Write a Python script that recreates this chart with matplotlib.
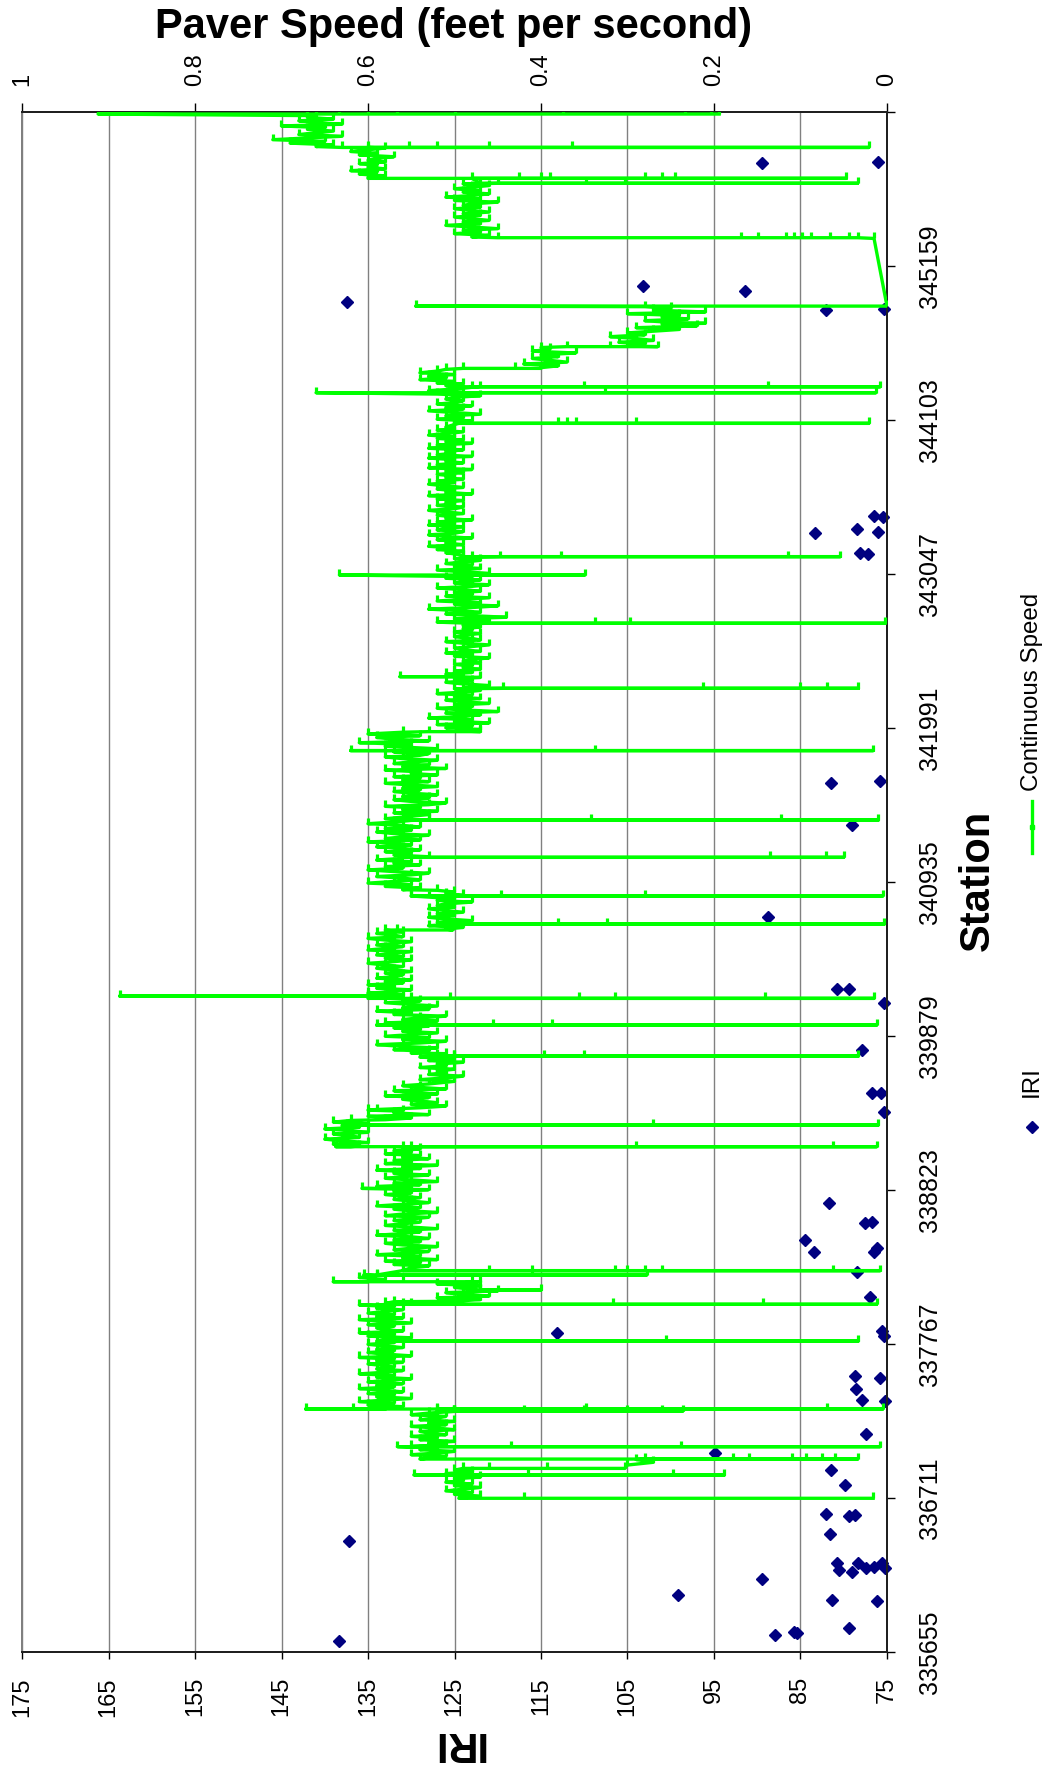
import numpy as np
import matplotlib
matplotlib.use('Agg')
import matplotlib.pyplot as plt
from matplotlib.path import Path
from matplotlib.lines import Line2D

plt.rcParams['font.family'] = ['Liberation Sans', 'DejaVu Sans']

# IRI readings
iri_station = [345863, 345874, 345024, 344987, 344911, 344857, 344866, 343445, 343440,
               343331, 343356, 343338, 343189, 343185, 341616, 341630, 341326, 340693,
               340199, 340199, 340103, 339783, 339486, 339486, 339360, 338732, 338597,
               338604, 338480, 338396, 338423, 338396, 338259, 338088, 337840, 337856,
               337824, 337550, 337532, 337457, 337384, 337373, 337148, 337023, 336904,
               336801, 336602, 336591, 336594, 336463, 336417, 336263, 336267, 336217,
               336201, 336229, 336235, 336263, 336229, 336153, 336046, 336011, 336007,
               335822, 335771, 335794, 335787, 335733]
iri_value = [89.5, 76.0, 103.2, 91.4, 137.4, 82.1, 75.4, 76.5, 75.5,
             83.3, 78.5, 76.0, 78.1, 77.2, 81.5, 75.8, 79.0, 88.8,
             80.8, 79.4, 75.4, 77.9, 76.7, 75.7, 75.3, 81.7, 77.6,
             76.7, 84.5, 83.4, 76.2, 76.5, 78.5, 77.0, 113.2, 75.6,
             75.4, 78.7, 75.8, 78.6, 77.9, 75.2, 77.4, 94.9, 81.5,
             79.8, 82.1, 79.4, 78.7, 81.6, 137.2, 80.8, 78.4, 80.6,
             79.0, 77.4, 76.5, 75.6, 75.2, 89.5, 99.2, 81.4, 76.2,
             79.4, 88.0, 85.8, 85.4, 138.3]

# paving runs: first and last station, speeds logged along the run
# (hundredths of ft/s)
run_first = [336712, 336937, 336985, 337326, 338060, 338196, 338290, 339125, 339305,
             339556, 339762, 340150, 340612, 340882, 341386, 341866, 341970, 343192,
             344085, 344356, 344462, 344610, 344712, 345358, 345765, 345978]
run_last = [336914, 336975, 337316, 338057, 338190, 338236, 339115, 339300, 339550,
            339758, 340130, 340605, 340878, 341380, 341860, 341962, 343185, 344055,
            344350, 344450, 344600, 344700, 344880, 345722, 345968, 346190]
run_speed = [
    [49, 47, 50, 48, 51, 49, 47, 50, 48, 51, 49, 50, 47, 49, 51, 48, 50, 49],
    [30, 27, 29],
    [53, 51, 55, 52, 50, 54, 52, 55, 51, 53, 50, 54, 52, 55, 51, 53, 54, 50, 52, 55,
     51, 53, 50, 54, 52, 51, 55, 53, 50, 52],
    [58, 56, 60, 57, 61, 58, 55, 59, 57, 60, 56, 58, 61, 57, 59, 56, 60, 58, 55, 59,
     57, 61, 58, 56, 59, 57, 58, 60, 56, 59, 57, 61, 55, 58, 60, 57, 59, 56, 58, 60,
     57, 59, 58, 55, 60, 57, 61, 56, 58, 59, 57, 60, 55, 58, 61, 56, 59, 57, 60, 58,
     56, 59, 57, 61, 58, 57],
    [50, 47, 52, 46, 49, 51, 45, 48, 50, 47, 52, 48],
    [60, 58, 61, 59],
    [55, 53, 57, 54, 58, 52, 56, 54, 59, 55, 53, 57, 55, 52, 56, 58, 54, 57, 53, 55,
     59, 56, 54, 57, 52, 55, 58, 56, 54, 57, 55, 53, 58, 56, 52, 55, 57, 54, 59, 56,
     53, 55, 57, 54, 56, 58, 55, 57, 53, 56, 59, 54, 57, 52, 55, 58, 56, 53, 57, 55,
     59, 54, 56, 52, 58, 55, 57, 53, 56, 54, 58, 55, 57, 54, 56],
    [61, 64, 60, 63, 65, 61, 62, 64, 60, 62, 65, 61, 63, 60, 64, 62],
    [58, 55, 60, 53, 57, 56, 59, 54, 51, 55, 52, 54, 56, 53, 58, 52, 55, 57, 51, 54,
     56, 53],
    [52, 50, 54, 51, 49, 53, 51, 52, 50, 54, 51, 52, 49, 53, 50, 54, 52, 51],
    [55, 53, 57, 52, 56, 59, 54, 51, 56, 53, 58, 55, 52, 56, 54, 57, 53, 55, 58, 52,
     56, 54, 51, 57, 55, 59, 53, 56, 52, 55, 58, 54, 56],
    [58, 56, 60, 57, 55, 59, 57, 60, 56, 58, 55, 59, 57, 56, 58, 55, 57, 59, 56, 58,
     60, 57, 55, 58, 56, 59, 57, 55, 60, 58, 56, 59, 57, 55, 58, 60, 56, 57, 59, 56, 58],
    [51, 49, 53, 50, 52, 48, 51, 53, 50, 52, 49, 51, 53, 50, 52, 51, 48, 52, 50, 53,
     49, 51, 50, 52],
    [56, 54, 58, 55, 60, 57, 54, 56, 59, 55, 53, 57, 60, 56, 58, 54, 57, 55, 59, 56,
     53, 57, 55, 58, 54, 56, 59, 55, 57, 60, 54, 58, 56, 53, 57, 59, 55, 58, 54, 56,
     60, 57, 55, 58, 56],
    [55, 53, 57, 52, 56, 54, 58, 53, 51, 55, 57, 53, 56, 52, 55, 57, 54, 56, 52, 55,
     58, 53, 56, 54, 57, 52, 55, 54, 58, 51, 56, 53, 57, 55, 52, 56, 58, 54, 53, 57,
     55, 52, 56],
    [58, 55, 61, 53, 57, 59, 54, 60, 56],
    [49, 47, 51, 48, 52, 46, 50, 48, 53, 49, 47, 51, 45, 49, 52, 48, 50, 46, 49, 51,
     47, 50, 48, 52, 49, 47, 50, 48, 46, 49, 51, 48, 50, 47, 49, 51, 48, 50, 47, 49,
     48, 50, 47, 49, 48, 46, 50, 48, 51, 47, 49, 50, 48, 46, 49, 51, 47, 48, 50, 49,
     47, 50, 48, 49, 47, 49, 48, 52, 46, 50, 44, 48, 51, 47, 49, 53, 48, 45, 50, 47,
     52, 49, 46, 51, 48, 50, 47, 49, 52, 48, 46, 50, 49, 47, 51, 48, 50, 46, 49, 52,
     47, 50, 48, 51, 49, 47, 50, 48, 49, 50],
    [51, 49, 52, 50, 53, 49, 51, 50, 52, 48, 51, 53, 50, 49, 52, 51, 49, 53, 50, 52,
     48, 51, 50, 52, 49, 51, 53, 50, 49, 52, 50, 51, 49, 52, 50, 53, 48, 51, 50, 52,
     49, 51, 53, 50, 52, 49, 51, 50, 52, 49, 51, 48, 53, 50, 52, 49, 51, 50, 53, 48,
     52, 50, 51, 49, 53, 50, 52, 48, 51, 49, 52, 50, 53, 51, 49, 52, 50, 51],
    [50, 48, 52, 49, 51, 47, 50, 53, 49, 51, 48, 52, 50, 49, 51, 50, 47, 52, 49, 53,
     50, 48, 51, 49],
    [52, 50, 54, 51, 53, 50, 54, 52, 51],
    [40, 38, 42, 37, 39, 41, 38, 40, 36, 41, 39, 40],
    [30, 28, 31, 27, 29, 32, 28, 30],
    [27, 24, 29, 22, 26, 25, 28, 23, 26, 24, 30, 21, 27, 25, 28],
    [48, 46, 50, 47, 49, 45, 48, 51, 47, 49, 46, 48, 50, 47, 49, 46, 48, 50, 47, 49,
     48, 45, 50, 47, 51, 48, 46, 49, 47, 50, 48, 46, 49],
    [60, 58, 61, 59, 62, 58, 60, 59, 61, 58, 60, 59, 57, 61, 59, 62, 60, 58],
    [66, 64, 69, 65, 71, 67, 63, 68, 66, 64, 67, 65, 70, 63, 66, 68, 64, 67, 66],
]

# stops and surges: station and the speeds logged there, in order (ft/s)
stop_station = [336709, 336869, 336914, 336978, 337063, 337308, 337321, 337787, 338039,
                338137, 338194, 338240, 338270, 338834, 339120, 339269, 339371, 339742,
                339954, 340137, 340153, 340606, 340647, 340839, 341104, 341360, 341836,
                341966, 342263, 342343, 342709, 343040, 343166, 344080, 344290, 344331,
                344457, 344606, 344766, 344884, 345348, 345353, 345726, 345760, 345972,
                346201]
stop_speed = [
    [.016, .42, .495],
    [.547, .415, .247, .188, .48],
    [.46, .393, .303],
    [.28, .178, .16, .11, .094, .075, .06, .034, .54],
    [.566, .435, .238, .008, .52],
    [.50, .42, .35, .30, .26, .236, .50],
    [.52, .348, .069, .005, .617, .672, .58],
    [.57, .255, .033, .58],
    [.56, .317, .143, .012, .55],
    [.47, .40, .47],
    [.47, .56, .64, .60],
    [.605, .41, .278, .59],
    [.56, .41, .315, .30, .28, .26, .063, .008, .46, .56],
    [.607, .55],
    [.55, .29, .063, .012, .637, .62],
    [.62, .27, .01, .624, .61],
    [.60],
    [.50, .396, .35, .033, .50],
    [.55, .456, .387, .012, .59, .56],
    [.55, .505, .356, .315, .141, .015, .60],
    [.60, .887, .60],
    [.566, .502],
    [.50, .38, .324, .003, .50],
    [.55, .446, .28, .005, .55],
    [.56, .135, .071, .05, .56],
    [.53, .342, .122, .01, .53],
    [.55, .338, .016, .62, .58],
    [.53, .47],
    [.444, .213, .10, .069, .033, .49],
    [.50, .563, .50],
    [.463, .338, .297, .002, .48],
    [.633, .349, .49],
    [.447, .377, .114, .054, .49],
    [.495, .38, .37, .36, .29, .021, .50],
    [.66, .326, .013, .50],
    [.47, .35, .138, .008, .50],
    [.49, .43, .40],
    [.37, .32, .265],
    [.21],
    [.545, .0],
    [.015],
    [.034, .044, .066, .088, .098, .108, .117, .149, .169, .45],
    [.45, .348, .303, .034, .47],
    [.48, .425, .40, .39, .28, .26, .245, .047, .60],
    [.60, .553, .52, .46, .364, .021, .63],
    [.912, .633, .60, .566, .499, .374, .233, .204, .194],
]

iri_ticks = list(range(75, 176, 10))
speed_ticks = [0, 0.2, 0.4, 0.6, 0.8, 1]
speed_labels = ['0', '0.2', '0.4', '0.6', '0.8', '1']
station_ticks = [335655 + 1056 * k for k in range(11)]
station_labels = [str(s) for s in station_ticks[:-1]] + ['']

# assemble the speed trace in station order
pts = []
for s0, s1, sp in zip(run_first, run_last, run_speed):
    for st, v in zip(np.linspace(s0, s1, len(sp)), sp):
        pts.append((st, 0, v / 100))
for st, sp in zip(stop_station, stop_speed):
    for k, v in enumerate(sp):
        pts.append((st, k + 1, v))
pts.sort(key=lambda p: (p[0], p[1]))
trace_station = [p[0] for p in pts]
trace_speed = [p[2] for p in pts]

W, H = 1045, 1767
fig = plt.figure(figsize=(W / 100, H / 100), dpi=100)
ax = fig.add_axes([22 / W, 1 - 1652 / H, 865 / W, 1540 / H])
ax.set_xlim(175, 75)
ax.set_ylim(335655, 346215)
ax.xaxis.grid(True, color='#808080', lw=1)
ax.set_axisbelow(True)
ax.set_xticks(iri_ticks, [str(t) for t in iri_ticks], rotation=90, va='top', ha='center')
ax.tick_params(axis='x', direction='out', length=5, width=1, pad=13, labelsize=17)
ax.yaxis.tick_right()
ax.set_yticks(station_ticks, station_labels, rotation=90, va='center')
ax.tick_params(axis='y', direction='out', length=6, width=1, pad=16, labelsize=18)

ax.plot(iri_value, iri_station, 'D', color='#000080', ms=6.2, mec='#000080',
        clip_on=False, zorder=3)

ax2 = ax.twiny()
ax2.set_xlim(1, 0)
ax2.set_xticks(speed_ticks, speed_labels, rotation=90, va='bottom', ha='center')
ax2.tick_params(axis='x', direction='out', length=6.5, width=1, pad=12, labelsize=17)

# short upward stub marker on every logged point
stub = Path([(0, 0), (0, 1)], [Path.MOVETO, Path.LINETO])
ax2.plot(trace_speed, trace_station, color='#00FF00', lw=2.4, marker=stub, ms=8,
         mew=2.3, mec='#00FF00', zorder=4)

for a in (ax, ax2):
    for side in ('top', 'right', 'bottom'):
        a.spines[side].set_color('#202020')
        a.spines[side].set_linewidth(1.4)
    a.spines['left'].set_color('#808080')
    a.spines['left'].set_linewidth(1.4)

fig.text(454 / W, 1 - 27 / H, 'Paver Speed (feet per second)', ha='center', va='center',
         fontsize=30, fontweight='bold')
fig.text(458 / W, 1 - 1743 / H, 'IRI', rotation=180, ha='center', va='center',
         fontsize=30, fontweight='bold')
fig.text(978 / W, 1 - 880 / H, 'Station', rotation=90, ha='center', va='center',
         fontsize=30, fontweight='bold')

# legend
fig.text(1032 / W, 1 - 692 / H, 'Continuous Speed', rotation=90, ha='center', va='center',
         fontsize=17.4)
fig.add_artist(Line2D([1032 / W, 1032 / W], [1 - 801 / H, 1 - 853 / H], color='#00FF00',
                      lw=2.4, transform=fig.transFigure))
fig.add_artist(Line2D([1032 / W], [1 - 827 / H], marker='s', ms=3, color='#00FF00',
                      transform=fig.transFigure))
fig.text(1032 / W, 1 - 1082 / H, 'IRI', rotation=90, ha='center', va='center',
         fontsize=17.4)
fig.add_artist(Line2D([1032 / W], [1 - 1127 / H], marker='D', ms=6.2, color='#000080',
                      mec='#000080', transform=fig.transFigure))

fig.savefig('out.png', dpi=100)
